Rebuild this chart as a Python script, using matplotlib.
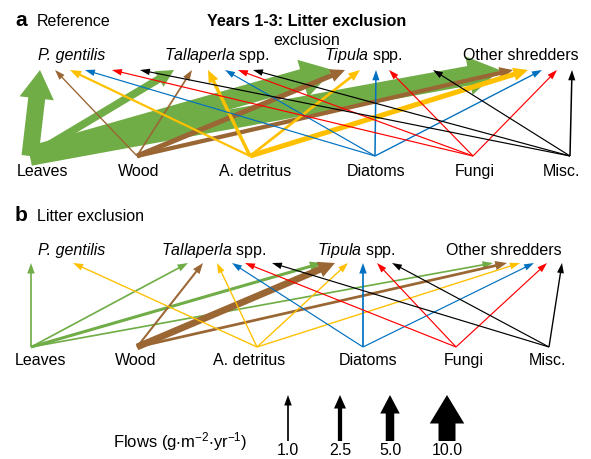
import numpy as np
import matplotlib.pyplot as plt
from matplotlib.patches import FancyArrow

plt.rcParams['font.family'] = ['Liberation Sans', 'DejaVu Sans']
plt.rcParams['mathtext.fontset'] = 'custom'
plt.rcParams['mathtext.rm'] = 'Liberation Sans'
plt.rcParams['mathtext.it'] = 'Liberation Sans:italic'
plt.rcParams['mathtext.default'] = 'regular'

sources = ["Leaves", "Wood", "A. detritus", "Diatoms", "Fungi", "Misc."]
consumers = ["P. gentilis", "Tallaperla spp.", "Tipula spp.", "Other shredders"]
italic_part = ["P. gentilis", "Tallaperla", "Tipula", ""]
colors = ["#70ad47", "#9a6633", "#ffc000", "#0070c0", "#ff0000", "#000000"]

# flows in g m-2 yr-1, rows = sources, columns = consumers (0 = no flow)
flows_ref = [
    [10.0, 4.5, 11.5, 11.5],
    [0.8, 1.0, 3.0, 2.5],
    [1.3, 2.0, 1.6, 3.0],
    [0.7, 0.7, 0.9, 0.8],
    [0.7, 0.7, 0.7, 0.7],
    [0.7, 0.7, 0.7, 0.9],
]
flows_excl = [
    [1.0, 1.0, 1.8, 1.0],
    [0.0, 1.2, 4.0, 1.6],
    [0.8, 0.8, 0.8, 0.8],
    [0.0, 0.7, 1.0, 0.7],
    [0.0, 0.7, 0.7, 0.7],
    [0.0, 0.7, 0.7, 0.8],
]
legend_flows = [1.0, 2.5, 5.0, 10.0]

# layout (pixel coordinates, text y = baseline)
panels = [
    dict(flows=flows_ref, letter="a", name="Reference", top=26,
         cons_y=60, head_y=70, tail_y=156, lab_y=176,
         tail_x=[30, 137, 250, 375, 473, 570],
         lab_x=[42, 139, 255, 376, 475, 562],
         cons_x=[72, 217, 363, 521],
         head_x=[[40, 55, 70, 85, 112, 140],
                 [174, 192, 208, 225, 238, 253],
                 [333, 345, 360, 376, 389, 433],
                 [500, 513, 528, 542, 557, 572]]),
    dict(flows=flows_excl, letter="b", name="Litter exclusion", top=221,
         cons_y=255, head_y=263, tail_y=347, lab_y=365,
         tail_x=[31, 137, 257, 363, 456, 549],
         lab_x=[41, 136, 249, 368, 464, 548],
         cons_x=[72, 214, 356, 504],
         head_x=[[31, 50, 73, 90, 105, 120],
                 [188, 203, 217, 232, 245, 272],
                 [322, 335, 348, 363, 377, 392],
                 [493, 507, 520, 534, 547, 562]]),
]


def draw_arrow(ax, x0, y0, x1, y1, f, color):
    w = max(1.7 * f, 1.1)
    hw = 3.0 * f + 4.5
    hl = 2.0 * f + 8.5
    ax.add_patch(FancyArrow(x0, y0, x1 - x0, y1 - y0, width=w,
                            head_width=hw, head_length=hl,
                            length_includes_head=True, color=color, lw=0))


def consumer_label(ax, x, y, name, ital):
    if ital == name:
        ax.text(x, y, name, fontsize=fs, fontstyle="italic", ha="center", va="baseline")
    elif ital:
        rest = name[len(ital):]
        ax.text(x, y, r"$\mathit{%s}$%s" % (ital, rest), fontsize=fs,
                ha="center", va="baseline")
    else:
        ax.text(x, y, name, fontsize=fs, ha="center", va="baseline")


fig = plt.figure(figsize=(5.91, 4.59), dpi=100)
ax = fig.add_axes([0, 0, 1, 1])
ax.set_xlim(0, 591)
ax.set_ylim(459, 0)
ax.axis("off")

fs = 11.5
for p in panels:
    ax.text(15, p["top"], p["letter"], fontsize=15, fontweight="bold", va="baseline")
    ax.text(37, p["top"], p["name"], fontsize=fs, va="baseline")
    for c, name in enumerate(consumers):
        consumer_label(ax, p["cons_x"][c], p["cons_y"], name, italic_part[c])
    for s, name in enumerate(sources):
        ax.text(p["lab_x"][s], p["lab_y"], name, fontsize=fs, ha="center", va="baseline")
    for s in range(len(sources)):
        for c in range(len(consumers)):
            f = p["flows"][s][c]
            if f > 0:
                draw_arrow(ax, p["tail_x"][s], p["tail_y"], p["head_x"][c][s],
                           p["head_y"], f, colors[s])

ax.text(307, 26, "Years 1-3: Litter exclusion", fontsize=fs, fontweight="bold",
        ha="center", va="baseline")
ax.text(307, 45, "exclusion", fontsize=fs, ha="center", va="baseline")

# flow legend
leg_x = [288, 340, 390, 447]
for x, f in zip(leg_x, legend_flows):
    draw_arrow(ax, x, 441, x, 395, f, "black")
    ax.text(x, 455, "%.1f" % f, fontsize=fs, ha="center", va="baseline")
ax.text(113, 447, r"Flows (g$\cdot$m$^{-2}$$\cdot$yr$^{-1}$)", fontsize=12,
        ha="left", va="baseline")

fig.savefig("out.png", dpi=100)
